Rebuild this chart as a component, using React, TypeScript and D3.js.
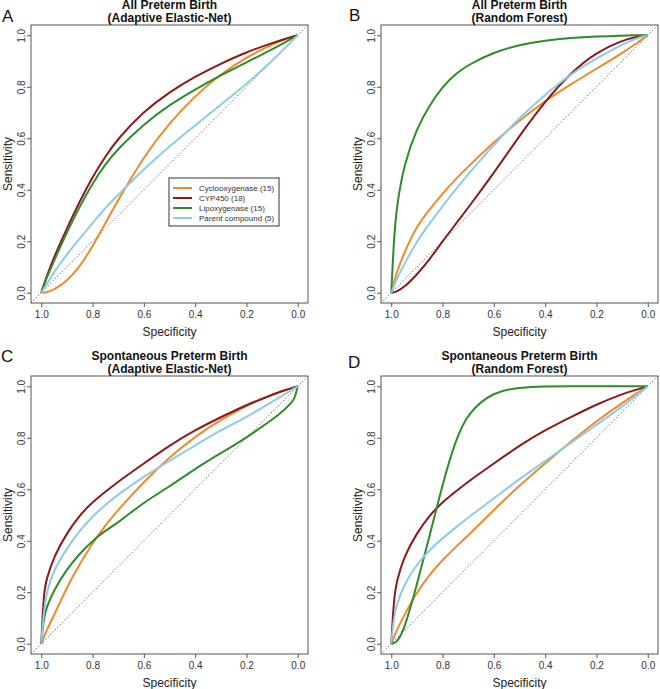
import { useEffect, useRef } from "react";
import * as d3 from "d3";

// specificity grid shared by every curve
const SPECIFICITY = [1, 0.99, 0.98, 0.95, 0.9, 0.85, 0.8, 0.75, 0.7, 0.6, 0.5, 0.4, 0.3, 0.2, 0.1, 0.05, 0.02, 0.01, 0];

const SERIES = ["Cyclooxygenase (15)", "CYP450 (18)", "Lipoxygenase (15)", "Parent compound (5)"];
const COLORS = ["#ee8a2a", "#8b1a1a", "#2e8b2e", "#8ecbe6"];

const TITLES = [
  ["All Preterm Birth", "(Adaptive Elastic-Net)"],
  ["All Preterm Birth", "(Random Forest)"],
  ["Spontaneous Preterm Birth", "(Adaptive Elastic-Net)"],
  ["Spontaneous Preterm Birth", "(Random Forest)"],
];
const LETTERS = ["A", "B", "C", "D"];
const TICKS = [1, 0.8, 0.6, 0.4, 0.2, 0];

// sensitivity values, panel A
const A_COX = [0, 0, 0.002, 0.01, 0.045, 0.1, 0.18, 0.27, 0.36, 0.53, 0.66, 0.765, 0.85, 0.915, 0.965, 0.985, 0.995, 0.998, 1];
const A_CYP = [0, 0.03, 0.06, 0.14, 0.25, 0.355, 0.45, 0.53, 0.6, 0.705, 0.78, 0.84, 0.89, 0.935, 0.97, 0.986, 0.995, 0.998, 1];
const A_LOX = [0, 0.028, 0.055, 0.125, 0.235, 0.335, 0.425, 0.5, 0.56, 0.655, 0.73, 0.79, 0.845, 0.895, 0.945, 0.972, 0.99, 0.995, 1];
const A_PAR = [0, 0.015, 0.03, 0.08, 0.15, 0.21, 0.27, 0.33, 0.38, 0.48, 0.57, 0.65, 0.73, 0.81, 0.9, 0.95, 0.98, 0.99, 1];

// panel B
const B_COX = [0, 0.04, 0.075, 0.155, 0.26, 0.325, 0.385, 0.44, 0.49, 0.585, 0.67, 0.745, 0.81, 0.87, 0.93, 0.965, 0.985, 0.993, 1];
const B_CYP = [0, 0.001, 0.004, 0.02, 0.07, 0.13, 0.2, 0.265, 0.33, 0.465, 0.61, 0.745, 0.855, 0.935, 0.98, 0.993, 0.998, 0.999, 1];
const B_LOX = [0, 0.2, 0.33, 0.5, 0.64, 0.73, 0.8, 0.85, 0.885, 0.935, 0.963, 0.98, 0.99, 0.996, 0.999, 1, 1, 1, 1];
const B_PAR = [0, 0.025, 0.05, 0.11, 0.2, 0.27, 0.335, 0.4, 0.46, 0.575, 0.68, 0.77, 0.85, 0.91, 0.965, 0.985, 0.995, 0.998, 1];

// panel C
const C_COX = [0, 0.025, 0.05, 0.11, 0.22, 0.31, 0.39, 0.46, 0.52, 0.63, 0.725, 0.805, 0.87, 0.925, 0.968, 0.985, 0.994, 0.997, 1];
const C_CYP = [0, 0.2, 0.25, 0.34, 0.43, 0.5, 0.55, 0.59, 0.63, 0.7, 0.77, 0.83, 0.88, 0.928, 0.967, 0.985, 0.994, 0.997, 1];
const C_LOX = [0, 0.1, 0.14, 0.21, 0.29, 0.35, 0.4, 0.44, 0.47, 0.55, 0.61, 0.68, 0.74, 0.8, 0.87, 0.91, 0.94, 0.96, 1];
const C_PAR = [0, 0.12, 0.2, 0.29, 0.37, 0.44, 0.495, 0.54, 0.58, 0.65, 0.71, 0.77, 0.83, 0.88, 0.94, 0.97, 0.988, 0.994, 1];

// panel D
const D_COX = [0, 0.025, 0.05, 0.11, 0.2, 0.27, 0.325, 0.375, 0.42, 0.52, 0.615, 0.70, 0.785, 0.865, 0.935, 0.968, 0.987, 0.994, 1];
const D_CYP = [0, 0.17, 0.24, 0.34, 0.43, 0.5, 0.55, 0.59, 0.63, 0.7, 0.77, 0.83, 0.88, 0.93, 0.97, 0.985, 0.994, 0.997, 1];
const D_LOX = [0, 0.001, 0.005, 0.05, 0.23, 0.42, 0.62, 0.79, 0.9, 0.98, 0.995, 1, 1, 1, 1, 1, 1, 1, 1];
const D_PAR = [0, 0.1, 0.15, 0.23, 0.31, 0.365, 0.41, 0.45, 0.49, 0.565, 0.64, 0.71, 0.78, 0.85, 0.92, 0.96, 0.984, 0.992, 1];

const PANEL_DATA = [
  [A_COX, A_CYP, A_LOX, A_PAR],
  [B_COX, B_CYP, B_LOX, B_PAR],
  [C_COX, C_CYP, C_LOX, C_PAR],
  [D_COX, D_CYP, D_LOX, D_PAR],
];

const FONT = "'Liberation Sans', Arial, sans-serif";
const BOX_W = 277;
const BOX_H = 278;
const BOX_POS = [[31, 25], [381, 25], [31, 376], [381, 376]];
const LETTER_POS = [[2, 21.5], [349, 21], [1, 362], [348, 368]];

function App() {
  const ref = useRef(null);

  useEffect(() => {
    const svg = d3.select(ref.current);
    svg.selectAll("*").remove();

    PANEL_DATA.forEach((curves, p) => {
      const [left, top] = BOX_POS[p];
      const x = d3.scaleLinear().domain([1.04, -0.04]).range([left, left + BOX_W]);
      const y = d3.scaleLinear().domain([-0.04, 1.04]).range([top + BOX_H, top]);

      const g = svg.append("g");
      const clipId = "clip" + p;
      g.append("clipPath").attr("id", clipId)
        .append("rect").attr("x", left).attr("y", top).attr("width", BOX_W).attr("height", BOX_H);

      // chance line
      g.append("line")
        .attr("clip-path", `url(#${clipId})`)
        .attr("x1", x(1.04)).attr("y1", y(-0.04))
        .attr("x2", x(-0.04)).attr("y2", y(1.04))
        .attr("stroke", "#555").attr("stroke-width", 1)
        .attr("stroke-dasharray", "1.2,2.2");

      const line = d3.line()
        .x((d) => x(d[0]))
        .y((d) => y(d[1]))
        .curve(d3.curveBasis);

      curves.forEach((sens, i) => {
        const pts = SPECIFICITY.map((s, k) => [s, sens[k]]);
        g.append("path")
          .attr("d", line(pts))
          .attr("fill", "none")
          .attr("stroke", COLORS[i])
          .attr("stroke-width", 2);
      });

      g.append("rect")
        .attr("x", left).attr("y", top).attr("width", BOX_W).attr("height", BOX_H)
        .attr("fill", "none").attr("stroke", "#555").attr("stroke-width", 1);

      const xAxis = d3.axisBottom(x).tickValues(TICKS).tickSize(4).tickPadding(4).tickFormat(d3.format(".1f"));
      const xa = g.append("g").attr("transform", `translate(0,${top + BOX_H})`).call(xAxis);
      xa.select(".domain").remove();
      xa.selectAll("line").attr("stroke", "#555");
      xa.selectAll("text").attr("font-size", 10).attr("font-family", FONT).attr("fill", "#333");

      const yAxis = d3.axisLeft(y).tickValues(TICKS).tickSize(4).tickFormat(d3.format(".1f"));
      const ya = g.append("g").attr("transform", `translate(${left},0)`).call(yAxis);
      ya.select(".domain").remove();
      ya.selectAll("line").attr("stroke", "#555");
      ya.selectAll("text")
        .attr("font-size", 10).attr("font-family", FONT).attr("fill", "#333")
        .attr("transform", "rotate(-90)")
        .attr("x", 0).attr("y", -6.5).attr("dy", null)
        .attr("text-anchor", "middle");

      g.append("text")
        .attr("x", left + BOX_W / 2).attr("y", top + BOX_H + 32.5)
        .attr("text-anchor", "middle").attr("font-size", 12).attr("font-family", FONT).attr("fill", "#222")
        .text("Specificity");
      g.append("text")
        .attr("transform", `translate(${left - 19},${top + BOX_H / 2}) rotate(-90)`)
        .attr("text-anchor", "middle").attr("font-size", 12).attr("font-family", FONT).attr("fill", "#222")
        .text("Sensitivity");

      TITLES[p].forEach((t, j) => {
        g.append("text")
          .attr("x", left + BOX_W / 2).attr("y", top - 16 + j * 13.2)
          .attr("text-anchor", "middle").attr("font-size", 12).attr("font-weight", "bold")
          .attr("font-family", FONT).attr("fill", "#111")
          .text(t);
      });

      g.append("text")
        .attr("x", LETTER_POS[p][0]).attr("y", LETTER_POS[p][1])
        .attr("font-size", 17).attr("font-family", FONT).attr("fill", "#111")
        .text(LETTERS[p]);

      if (p === 0) {
        const lg = g.append("g").attr("transform", "translate(169,178)");
        lg.append("rect").attr("width", 110).attr("height", 48)
          .attr("fill", "#fff").attr("stroke", "#333").attr("stroke-width", 1);
        SERIES.forEach((name, i) => {
          const ry = 10 + i * 10;
          lg.append("line").attr("x1", 4).attr("x2", 23).attr("y1", ry).attr("y2", ry)
            .attr("stroke", COLORS[i]).attr("stroke-width", 2);
          lg.append("text").attr("x", 30).attr("y", ry + 3)
            .attr("font-size", 8).attr("font-family", FONT).attr("fill", "#333")
            .text(name);
        });
      }
    });
  }, []);

  return (
    <svg
      ref={ref}
      width={660}
      height={689}
      style={{ position: "absolute", left: 0, top: 0, background: "#fff" }}
    />
  );
}

export default App;
